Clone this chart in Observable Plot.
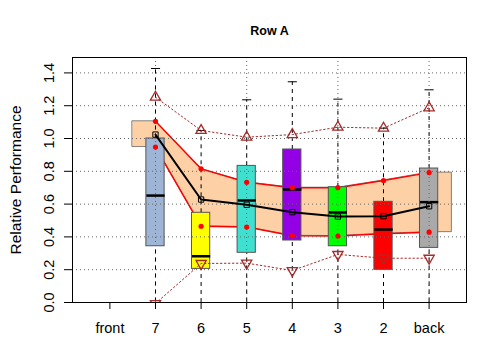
<!DOCTYPE html>
<html>
<head>
<meta charset="utf-8">
<script src="https://cdn.jsdelivr.net/npm/d3@7"></script>
<script src="https://cdn.jsdelivr.net/npm/@observablehq/plot@0.6"></script>
<style>
  html, body { margin: 0; padding: 0; background: white; }
</style>
</head>
<body>
<div id="chart"></div>
<script>
// ---- data ----
const categories = ["front", "7", "6", "5", "4", "3", "2", "back"];
const boxCats    = ["7", "6", "5", "4", "3", "2", "back"];
const boxColors  = ["#9FB5D5", "#FFFF00", "#40E0D0", "#9400E6", "#00FF00", "#FF0000", "#A9A9A9"];
const q1         = [0.343, 0.205, 0.303, 0.378, 0.343, 0.199, 0.333];
const median     = [0.652, 0.282, 0.622, 0.689, 0.549, 0.445, 0.612];
const q3         = [1.000, 0.547, 0.833, 0.933, 0.703, 0.614, 0.817];
const whiskerLo  = [0, 0, 0, 0, 0, 0, 0];
const whiskerHi  = [1.427, 1.049, 1.236, 1.346, 1.240, 1.063, 1.297];
const bandUpper  = [1.105, 0.815, 0.733, 0.700, 0.700, 0.744, 0.792];
const bandLower  = [0.948, 0.465, 0.460, 0.407, 0.405, 0.419, 0.429];
const centerVal  = [1.024, 0.628, 0.596, 0.551, 0.524, 0.526, 0.587];
const triUp      = [1.252, 1.049, 1.008, 1.024, 1.069, 1.063, 1.187];
const triDown    = [-0.006, 0.238, 0.240, 0.195, 0.293, 0.270, 0.270];
const yTicks     = [0, 0.2, 0.4, 0.6, 0.8, 1.0, 1.2, 1.4];
const yGrid      = [0.2, 0.4, 0.6, 0.8, 1.0, 1.2, 1.4];
const xGrid      = [2, 4, 6, 8];
const titleText  = "Row A";
const yLabel     = "Relative Performance";

// ---- derived tables ----
const rows = boxCats.map((c, i) => ({
  cat: c, x: categories.indexOf(c) + 1, color: boxColors[i],
  q1: q1[i], med: median[i], q3: q3[i], wlo: whiskerLo[i], whi: whiskerHi[i],
  hi: bandUpper[i], lo: bandLower[i], center: centerVal[i], tu: triUp[i], td: triDown[i]
}));
const first = rows[0], last = rows[rows.length - 1];
const band = [
  {x: first.x - 0.5, hi: first.hi, lo: first.lo},
  ...rows.map(r => ({x: r.x, hi: r.hi, lo: r.lo})),
  {x: last.x + 0.5, hi: last.hi, lo: last.lo}
];
const xTickVals = categories.map((c, i) => i + 1);
const halfBox = 0.2, halfCap = 0.1;
const brown = "#A52A2A";
const peach = "#FDD0A6";

const chart = Plot.plot({
  width: 480,
  height: 360,
  marginLeft: 72,
  marginRight: 14,
  marginTop: 57,
  marginBottom: 58,
  style: {fontFamily: "'Liberation Sans', Arial, sans-serif", background: "white", color: "black"},
  x: {type: "linear", domain: [0.18, 8.82]},
  y: {type: "linear", domain: [0, 1.494]},
  color: {type: "identity"},
  marks: [
    Plot.areaY(band, {x: "x", y1: "lo", y2: "hi", fill: peach, stroke: "#666", strokeWidth: 0.8}),
    Plot.line(rows, {x: "x", y: "hi", stroke: "#FF0000", strokeWidth: 1.5}),
    Plot.line(rows, {x: "x", y: "lo", stroke: "#FF0000", strokeWidth: 1.5}),
    Plot.ruleX(rows, {x: "x", y1: "wlo", y2: "q1", stroke: "black", strokeDasharray: "4,4"}),
    Plot.ruleX(rows, {x: "x", y1: "q3", y2: "whi", stroke: "black", strokeDasharray: "4,4"}),
    Plot.link(rows, {x1: d => d.x - halfCap, x2: d => d.x + halfCap, y1: "whi", y2: "whi", stroke: "black"}),
    Plot.rect(rows, {x1: d => d.x - halfBox, x2: d => d.x + halfBox, y1: "q1", y2: "q3", fill: "color", stroke: "#555", strokeWidth: 1}),
    Plot.link(rows, {x1: d => d.x - halfBox, x2: d => d.x + halfBox, y1: "med", y2: "med", stroke: "black", strokeWidth: 2.5}),
    Plot.gridY(yGrid, {stroke: "#666", strokeOpacity: 1, strokeDasharray: "1,3"}),
    Plot.gridX(xGrid, {stroke: "#666", strokeOpacity: 1, strokeDasharray: "1,3"}),
    Plot.line(rows, {x: "x", y: "center", stroke: "black", strokeWidth: 2}),
    Plot.dot(rows, {x: "x", y: "center", symbol: "square", r: 3, stroke: "black", fill: "none", strokeWidth: 1}),
    Plot.dot(rows, {x: "x", y: "hi", r: 2.6, fill: "#FF0000", stroke: "none"}),
    Plot.dot(rows, {x: "x", y: "lo", r: 2.6, fill: "#FF0000", stroke: "none"}),
    Plot.line(rows, {x: "x", y: "tu", stroke: brown, strokeWidth: 1, strokeDasharray: "1.5,2.5"}),
    Plot.line(rows, {x: "x", y: "td", stroke: brown, strokeWidth: 1, strokeDasharray: "1.5,2.5", clip: true}),
    Plot.dot(rows, {x: "x", y: "tu", symbol: "triangle", r: 3.8, stroke: brown, strokeWidth: 1.3, fill: "none"}),
    Plot.dot(rows, {x: "x", y: "td", symbol: "triangle", rotate: 180, r: 3.8, stroke: brown, strokeWidth: 1.3, fill: "none", clip: true}),
    Plot.frame({stroke: "black", strokeWidth: 1}),
    Plot.axisX(xTickVals, {tickSize: 7, tickPadding: 13.5, tickFormat: i => categories[i - 1], fontSize: 14.5, label: null, stroke: "black", fill: "black"}),
    Plot.axisY(yTicks, {tickSize: 8, text: null, label: null, stroke: "black"}),
    Plot.text(yTicks, {y: d => d, text: d => d.toFixed(1), frameAnchor: "left", dx: -19, rotate: -90, textAnchor: "middle", lineAnchor: "bottom", fontSize: 14.5, fill: "black"}),
    Plot.text([yLabel], {text: d => d, frameAnchor: "left", dx: -52, rotate: -90, textAnchor: "middle", lineAnchor: "bottom", fontSize: 15.5, fill: "black"}),
    Plot.text([titleText], {text: d => d, frameAnchor: "top", dy: -23, lineAnchor: "bottom", fontSize: 12.5, fontWeight: "bold", fill: "black"})
  ]
});
document.getElementById("chart").appendChild(chart);
</script>
</body>
</html>
